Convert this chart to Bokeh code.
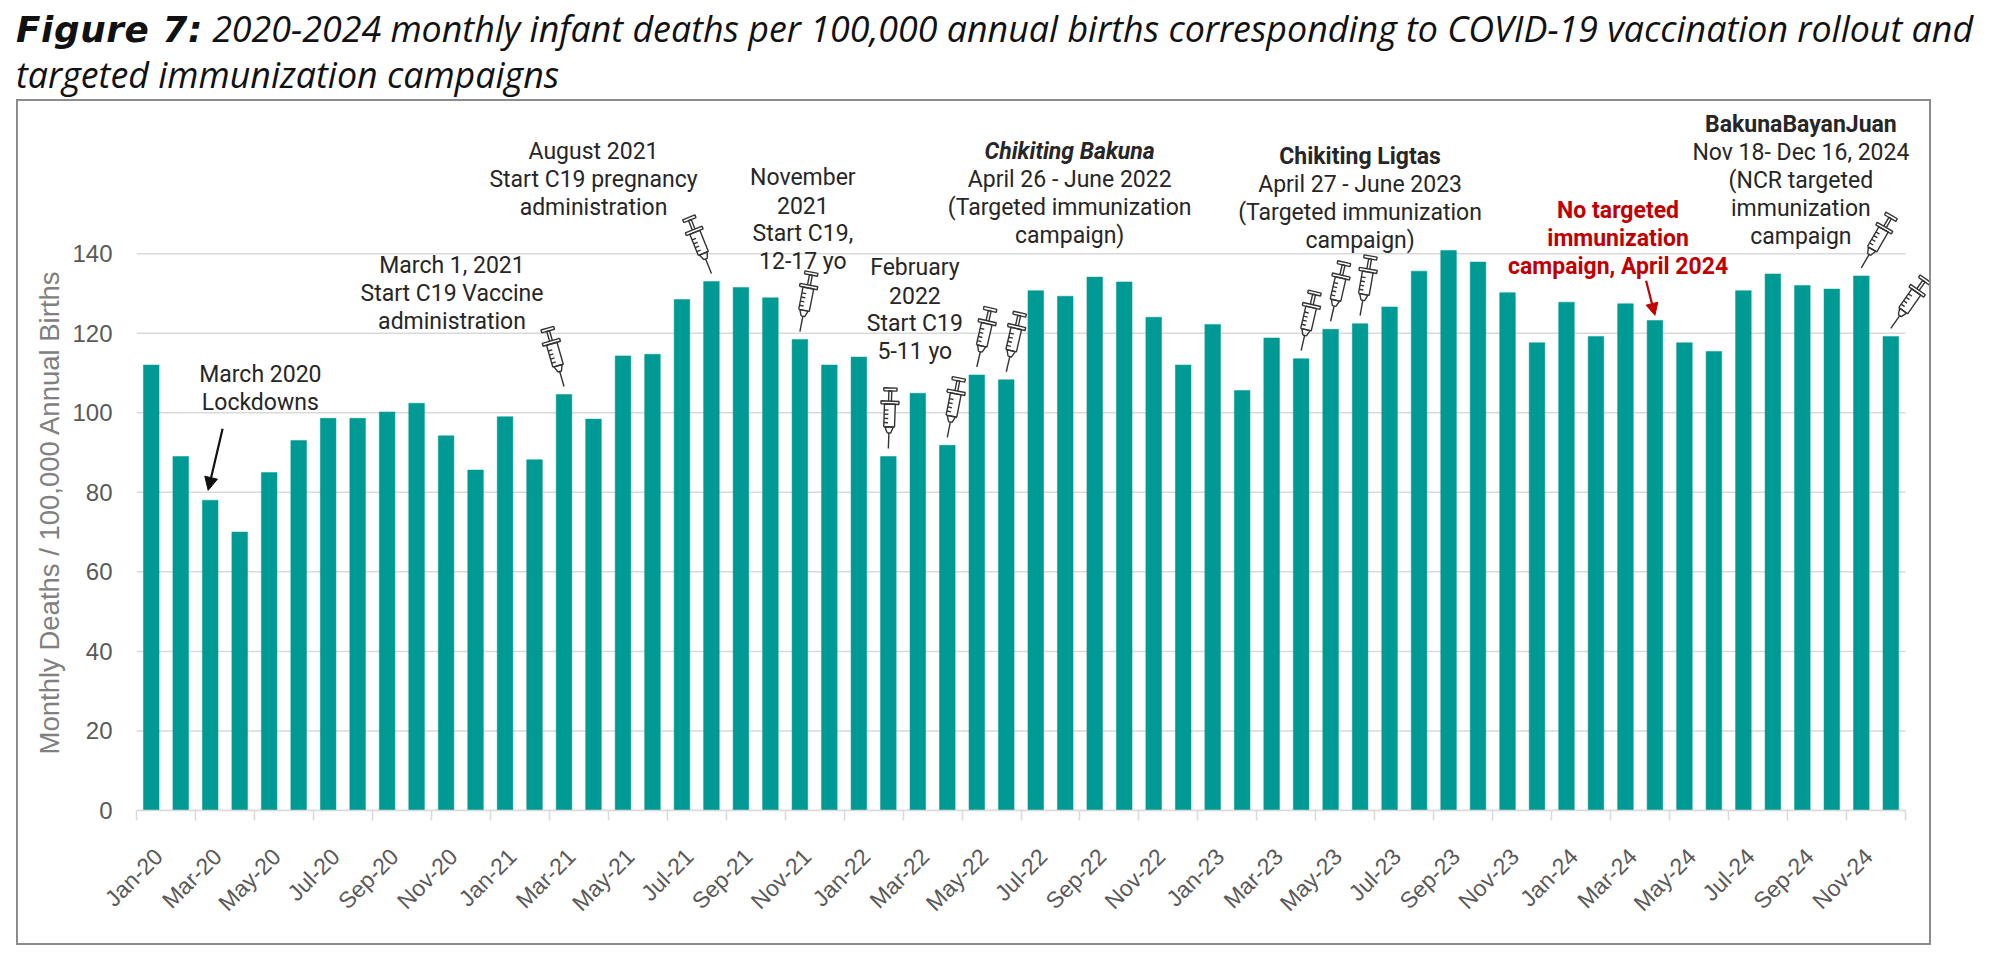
import math
from bokeh.plotting import figure
from bokeh.layouts import column
from bokeh.models import FixedTicker, Label, Arrow, NormalHead, Div, Title
from bokeh.embed import file_html
from bokeh.resources import INLINE

# ---------------- data ----------------
months = ["Jan", "Feb", "Mar", "Apr", "May", "Jun", "Jul", "Aug", "Sep", "Oct", "Nov", "Dec"]
years = ["20", "21", "22", "23", "24"]
categories = [f"{m}-{y}" for y in years for m in months]

deaths_2020 = [112.0, 89.0, 78.0, 70.0, 85.0, 93.0, 98.6, 98.6, 100.2, 102.4, 94.2, 85.6]
deaths_2021 = [99.0, 88.2, 104.6, 98.4, 114.3, 114.7, 128.5, 133.0, 131.5, 128.9, 118.4, 112.0]
deaths_2022 = [114.0, 89.0, 104.9, 91.8, 109.5, 108.3, 130.7, 129.3, 134.1, 132.9, 124.0, 112.0]
deaths_2023 = [122.2, 105.6, 118.8, 113.6, 121.0, 122.4, 126.6, 135.6, 140.8, 137.9, 130.2, 117.6]
deaths_2024 = [127.8, 119.2, 127.4, 123.2, 117.6, 115.4, 130.7, 134.9, 132.0, 131.1, 134.4, 119.2]

x_tick_labels = ["Jan-20", "Mar-20", "May-20", "Jul-20", "Sep-20", "Nov-20",
                 "Jan-21", "Mar-21", "May-21", "Jul-21", "Sep-21", "Nov-21",
                 "Jan-22", "Mar-22", "May-22", "Jul-22", "Sep-22", "Nov-22",
                 "Jan-23", "Mar-23", "May-23", "Jul-23", "Sep-23", "Nov-23",
                 "Jan-24", "Mar-24", "May-24", "Jul-24", "Sep-24", "Nov-24"]
y_ticks = [0, 20, 40, 60, 80, 100, 120, 140]

syringe_months = ["Mar-21", "Aug-21", "Nov-21", "Feb-22", "Apr-22", "May-22", "Jun-22",
                  "Apr-23", "May-23", "Jun-23", "Nov-24", "Dec-24"]
syringe_tilt_deg = [-16, -22, 11, 2, 11, 13, 13, 13, 13, 10, 30, 35]

values = deaths_2020 + deaths_2021 + deaths_2022 + deaths_2023 + deaths_2024
idx = list(range(len(categories)))
N = len(categories)

# ---------------- geometry ----------------
FW, FH = 1795, 706
X_END = 60.38
Y_END = 177.5
XS = FW / (X_END + 0.5)        # px per category
YS = FH / Y_END                # px per unit
TEAL = "#009A94"
ANN_FONT = "Roboto"
LABEL_SHIFT = 0.25             # rotated labels end slightly right of the bar centre

title_html = (
    '<div style="padding:6px 0 0 16px; font-family:\'Open Sans\'; font-style:italic; '
    'font-size:35.8px; line-height:45px; color:#111111; white-space:nowrap;">'
    '<span style="font-family:\'DejaVu Sans\'; font-weight:bold; font-style:oblique; '
    'letter-spacing:0.6px;">Figure 7:</span> 2020-2024 monthly infant deaths per 100,000 '
    'annual births corresponding to COVID-19 vaccination rollout and<br>'
    'targeted immunization campaigns</div>'
)
title_div = Div(text=title_html, width=1990, height=99, margin=0)

p = figure(width=1915, height=846,
           x_range=(-0.5, X_END), y_range=(0, Y_END),
           output_backend="svg", toolbar_location=None,
           min_border_left=118, min_border_right=2, min_border_top=3, min_border_bottom=137,
           background_fill_color="white", border_fill_color="white",
           styles={"border": "2px solid #8c8c8c", "margin-left": "16px"})
p.outline_line_color = None

# horizontal gridlines, limited to the category span
p.segment(x0=[-0.5] * len(y_ticks), y0=y_ticks, x1=[N - 0.5] * len(y_ticks), y1=y_ticks,
          line_color="#d9d9d9", line_width=1.5)

p.vbar(x=idx, top=values, width=0.53, fill_color=TEAL, line_color=TEAL, line_width=0.5)

# y axis
p.yaxis.ticker = FixedTicker(ticks=y_ticks)
p.yaxis.axis_line_color = None
p.yaxis.major_tick_line_color = None
p.yaxis.minor_tick_line_color = None
p.yaxis.major_tick_out = 0
p.yaxis.major_tick_in = 0
p.yaxis.major_label_text_font = "Liberation Sans"
p.yaxis.major_label_text_font_size = "24px"
p.yaxis.major_label_text_color = "#595959"
p.yaxis.major_label_standoff = 24
p.add_layout(Title(text="Monthly Deaths / 100,000 Annual Births", align="left",
                   text_font="Liberation Sans", text_font_style="normal", text_font_size="27.5px",
                   text_color="#808080", offset=56, standoff=10), "left")
p.grid.grid_line_color = None

# x axis: labels every second month, boundary ticks every second month
label_idx = [categories.index(l) for l in x_tick_labels]
label_pos = [i + LABEL_SHIFT for i in label_idx]
boundaries = [i - 0.5 for i in label_idx] + [N - 0.5]
p.xaxis.ticker = FixedTicker(ticks=label_pos, minor_ticks=boundaries)
p.xaxis.major_label_overrides = {x: l for x, l in zip(label_pos, x_tick_labels)}
p.xaxis.major_label_orientation = math.pi / 4
p.xaxis.major_label_text_font = "Liberation Sans"
p.xaxis.major_label_text_font_size = "23px"
p.xaxis.major_label_text_color = "#595959"
p.xaxis.major_label_standoff = 32
p.xaxis.bounds = (-0.5, N - 0.5)
p.xaxis.axis_line_color = "#d9d9d9"
p.xaxis.axis_line_width = 1.5
p.xaxis.major_tick_line_color = None
p.xaxis.major_tick_out = 0
p.xaxis.major_tick_in = 0
p.xaxis.minor_tick_line_color = "#d9d9d9"
p.xaxis.minor_tick_line_width = 1.5
p.xaxis.minor_tick_out = 10
p.xaxis.minor_tick_in = 0

# ---------------- annotation texts ----------------
LINE = 28 / YS
blocks = [
    (3.7, 109.6, ["March 2020", "Lockdowns"], ["normal"] * 2, "#262626"),
    (10.2, 137.0, ["March 1, 2021", "Start C19 Vaccine", "administration"], ["normal"] * 3, "#262626"),
    (15.0, 165.6, ["August 2021", "Start C19 pregnancy", "administration"], ["normal"] * 3, "#262626"),
    (22.1, 159.1, ["November", "2021", "Start C19,", "12-17 yo"], ["normal"] * 4, "#262626"),
    (25.9, 136.5, ["February", "2022", "Start C19", "5-11 yo"], ["normal"] * 4, "#262626"),
    (31.15, 165.6, ["Chikiting Bakuna", "April 26 - June 2022", "(Targeted immunization", "campaign)"],
     ["bold italic", "normal", "normal", "normal"], "#262626"),
    (41.0, 164.4, ["Chikiting Ligtas", "April 27 - June 2023", "(Targeted immunization", "campaign)"],
     ["bold", "normal", "normal", "normal"], "#262626"),
    (49.75, 150.8, ["No targeted", "immunization", "campaign, April 2024"], ["bold"] * 3, "#C00000"),
    (55.95, 172.4, ["BakunaBayanJuan", "Nov 18- Dec 16, 2024", "(NCR targeted", "immunization", "campaign"],
     ["bold", "normal", "normal", "normal", "normal"], "#262626"),
]
for bx, by, lines, styles, col in blocks:
    for k, (txt, st) in enumerate(zip(lines, styles)):
        p.add_layout(Label(x=bx, y=by - k * LINE, text=txt, text_font=ANN_FONT,
                           text_font_style=st, text_font_size="23px", text_color=col,
                           text_align="center", text_baseline="middle"))

# arrows
mar20 = categories.index("Mar-20")
p.add_layout(Arrow(end=NormalHead(size=13, fill_color="#111111", line_color="#111111"),
                   x_start=mar20 + 0.42, y_start=values[mar20] + 18.0,
                   x_end=mar20 - 0.07, y_end=values[mar20] + 2.5,
                   line_color="#111111", line_width=2.2))
apr24 = categories.index("Apr-24")
p.add_layout(Arrow(end=NormalHead(size=12, fill_color="#C00000", line_color="#C00000"),
                   x_start=apr24 - 0.3, y_start=values[apr24] + 10.0,
                   x_end=apr24, y_end=values[apr24] + 1.3,
                   line_color="#C00000", line_width=2.2))

# ---------------- syringes ----------------
SC = 1.2
shape_lines = [
    [(0, 0), (0, 13)],                                                     # needle
    [(-1.5, 13), (-3.5, 18), (3.5, 18), (1.5, 13), (-1.5, 13)],            # hub
    [(-4.5, 18), (-4.5, 37), (4.5, 37), (4.5, 18), (-4.5, 18)],            # barrel
    [(-4.5, 21.5), (-1.0, 21.5)], [(-4.5, 25), (-1.0, 25)],
    [(-4.5, 28.5), (-1.0, 28.5)], [(-4.5, 32), (-1.0, 32)],               # graduations
    [(-7.5, 37), (7.5, 37), (7.5, 39.5), (-7.5, 39.5), (-7.5, 37)],        # flange
    [(-1.2, 39.5), (-1.2, 48), (1.2, 48), (1.2, 39.5)],                    # rod
    [(-5.5, 48), (5.5, 48), (5.5, 50.5), (-5.5, 50.5), (-5.5, 48)],        # handle
]
GAP = 8
sx_all, sy_all, bx_all, by_all = [], [], [], []
for m, tilt in zip(syringe_months, syringe_tilt_deg):
    i = categories.index(m)
    t = math.radians(tilt)
    c, s = math.cos(t), math.sin(t)
    base_y = values[i] + GAP / YS

    def tr(u, v):
        u, v = u * SC, v * SC
        dx = u * c + v * s
        dy = -u * s + v * c
        return i + dx / XS, base_y + dy / YS

    for k, poly in enumerate(shape_lines):
        pts = [tr(u, v) for u, v in poly]
        if k == 2:
            bx_all.append([q[0] for q in pts])
            by_all.append([q[1] for q in pts])
        sx_all.append([q[0] for q in pts])
        sy_all.append([q[1] for q in pts])

p.patches(bx_all, by_all, fill_color="white", line_color=None)
p.multi_line(sx_all, sy_all, line_color="#333333", line_width=1.4)

layout = column(title_div, p, spacing=0)
open("out.html", "w").write(file_html(layout, INLINE))
